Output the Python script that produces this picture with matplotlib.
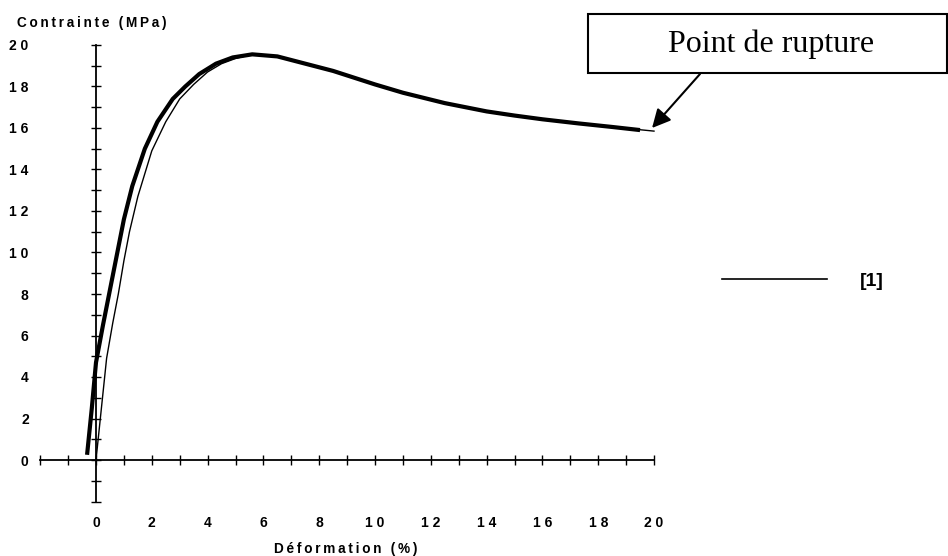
import matplotlib.pyplot as plt
from matplotlib.patches import Rectangle

# Courbe contrainte / deformation (trait epais)
strain_thick = [-0.32, -0.15, 0.0, 0.25, 0.5, 0.75, 1.0, 1.3, 1.75, 2.2, 2.75, 3.2,
                3.7, 4.3, 4.9, 5.6, 6.5, 7.5, 8.5, 10.0, 11.0, 12.5, 14.0, 15.0,
                16.0, 17.3, 18.5, 19.5]
stress_thick = [0.25, 2.5, 4.7, 6.5, 8.2, 9.9, 11.6, 13.2, 15.0, 16.3, 17.4, 18.0,
                18.6, 19.1, 19.4, 19.55, 19.45, 19.1, 18.75, 18.1, 17.7, 17.2, 16.8, 16.6,
                16.42, 16.22, 16.05, 15.9]

# Reference [1] (trait fin)
strain_ref = [0.0, 0.38, 0.6, 0.8, 1.0, 1.2, 1.5, 2.0, 2.5, 3.0, 3.5, 4.0,
              4.5, 5.0, 5.6, 6.5, 7.5, 8.5, 10.0, 11.0, 12.5, 14.0, 15.0, 16.0,
              17.3, 18.5, 20.0]
stress_ref = [0.0, 4.9, 6.6, 8.0, 9.6, 11.0, 12.7, 14.9, 16.3, 17.4, 18.1, 18.7,
              19.1, 19.35, 19.55, 19.45, 19.1, 18.75, 18.1, 17.7, 17.2, 16.8, 16.6, 16.42,
              16.22, 16.05, 15.85]

major_ticks = list(range(0, 21, 2))
minor_ticks = [-2, -1] + list(range(1, 20, 2))
rupture = (19.93, 16.0)


def spaced(s, sep="\u2009"):
    # imite l'espacement des lettres du document original
    return sep.join(s)


plt.rcParams['font.family'] = ['Liberation Sans', 'DejaVu Sans']

fig = plt.figure(figsize=(9.48, 5.56), dpi=100)
ax = fig.add_axes([0, 0, 1, 1])
ax.set_xlim(-96 / 27.9, (948 - 96) / 27.9)
ax.set_ylim(-96 / 20.75, 460 / 20.75)

ax.plot(strain_ref, stress_ref, color='black', lw=1.0, label='[1]')
ax.plot(strain_thick, stress_thick, color='black', lw=3.0, solid_capstyle='butt')

# axes en croix
for side in ['top', 'right']:
    ax.spines[side].set_visible(False)
for side in ['left', 'bottom']:
    ax.spines[side].set_position(('data', 0))
    ax.spines[side].set_bounds(-2, 20)
    ax.spines[side].set_linewidth(1.3)

ax.set_xticks(major_ticks)
ax.set_xticks(minor_ticks, minor=True)
ax.set_yticks(major_ticks)
ax.set_yticks(minor_ticks, minor=True)
labels = [spaced(str(v), " ") for v in major_ticks]
ax.set_xticklabels(labels, fontsize=10, fontweight='bold')
ax.set_yticklabels(labels, fontsize=10, fontweight='bold')
ax.tick_params(which='both', direction='inout', length=7, width=1)
ax.tick_params(axis='y', pad=45)
ax.tick_params(axis='x', pad=37)

fig.text(17 / 948, 1 - 23 / 556, spaced("Contrainte (MPa)"), fontsize=9.8,
         fontweight='bold', ha='left', va='center')
fig.text(346 / 948, 1 - 549 / 556, spaced("Déformation (%)"), fontsize=9.8,
         fontweight='bold', ha='center', va='center')

# cadre "Point de rupture"
ax.add_patch(Rectangle((588 / 948, 1 - 73 / 556), 359 / 948, 59 / 556,
                       transform=ax.transAxes, fill=False, lw=1.5, color='black'))
ax.text(771 / 948, 1 - 44 / 556, "Point de rupture", transform=ax.transAxes,
        fontsize=23, family='Liberation Serif', ha='center', va='center')
ax.annotate("", xy=rupture, xytext=(700 / 948, 1 - 74 / 556),
            textcoords='axes fraction',
            arrowprops=dict(arrowstyle='-|>', color='black', lw=1.5,
                            mutation_scale=28, shrinkA=0, shrinkB=0))

leg = ax.legend(loc='center left', bbox_to_anchor=(704 / 948, 1 - 281 / 556),
                frameon=False, handlelength=5.4, handletextpad=1.7,
                prop={'weight': 'bold', 'size': 14})
for line in leg.get_lines():
    line.set_linewidth(1.2)

plt.savefig("out.png", dpi=100)
